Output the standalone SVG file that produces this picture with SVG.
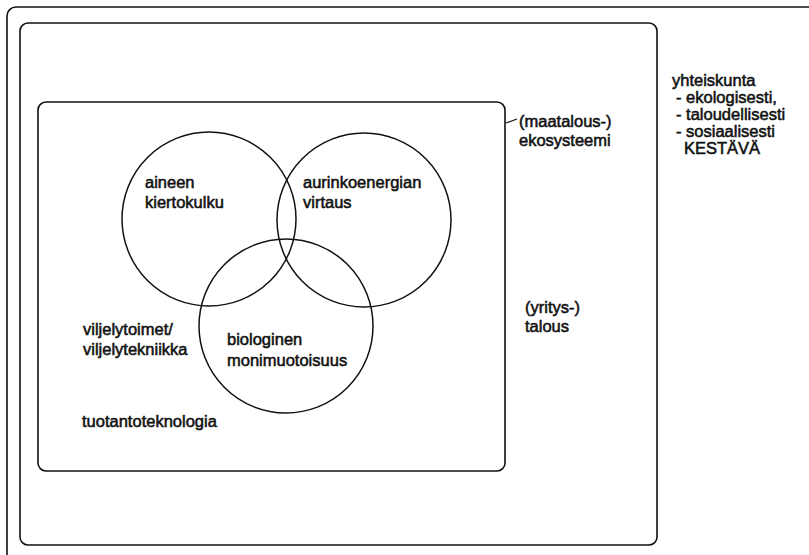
<svg xmlns="http://www.w3.org/2000/svg" width="809" height="555" viewBox="0 0 809 555">
<style>
.frame{fill:none;stroke:#111;stroke-width:1.6}
.c{fill:none;stroke:#111;stroke-width:1.5}
text{font-family:"Liberation Sans",Arial,sans-serif;font-size:16.5px;fill:#111;stroke:#111;stroke-width:0.55}
</style>
<rect width="809" height="555" fill="#fff"/>
<g id="frame-outer"><rect class="frame" x="7" y="7" width="830" height="580" rx="9"/></g>
<g id="yhteiskunta-box"><rect class="frame" x="20" y="23" width="637" height="522" rx="8"/></g>
<g id="ekosysteemi-box"><rect class="frame" x="38" y="102" width="467" height="369" rx="8"/></g>
<g id="aineen"><circle class="c" cx="209" cy="219" r="87"/>
<text x="145" y="188">aineen</text><text x="145" y="208">kiertokulku</text></g>
<g id="aurinko"><circle class="c" cx="364" cy="220" r="87"/>
<text x="303" y="188">aurinkoenergian</text><text x="303" y="208">virtaus</text></g>
<g id="bio"><circle class="c" cx="286" cy="326" r="87"/>
<text x="227" y="345">biologinen</text><text x="227" y="366">monimuotoisuus</text></g>
<g id="viljely"><text x="83" y="335">viljelytoimet/</text><text x="83" y="355">viljelytekniikka</text></g>
<g id="tuotanto"><text x="82" y="427">tuotantoteknologia</text></g>
<g id="connectors"><line x1="506" y1="123" x2="517" y2="119" stroke="#111" stroke-width="1.2"/></g>
<g id="maatalous"><text x="519" y="127">(maatalous-)</text><text x="519" y="146">ekosysteemi</text></g>
<g id="yritys"><text x="525" y="313">(yritys-)</text><text x="525" y="332">talous</text></g>
<g id="yhteiskunta"><text x="672" y="86">yhteiskunta</text><text x="676" y="103">- ekologisesti,</text><text x="676" y="120">- taloudellisesti</text><text x="676" y="137">- sosiaalisesti</text><text x="684" y="154">KESTÄVÄ</text></g>
</svg>
